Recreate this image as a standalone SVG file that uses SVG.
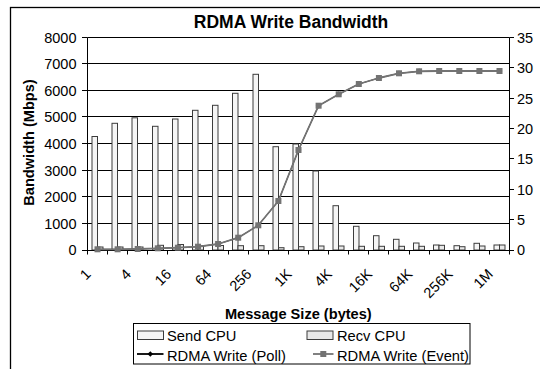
<svg xmlns="http://www.w3.org/2000/svg" width="540" height="369" viewBox="0 0 540 369">
  <style>
    text { font-family: "Liberation Sans", Arial, sans-serif; fill: #000; }
    .tick { font-size: 14.5px; }
    .ttl { font-size: 17.5px; font-weight: bold; }
    .axt { font-size: 14.6px; font-weight: bold; }
    .leg { font-size: 14.7px; }
    .grid { stroke: #000; stroke-width: 1; }
    .axis { stroke: #000; stroke-width: 1; fill: none; }
    .send { fill: #f5f5f5; stroke: #3c3c3c; stroke-width: 1; }
    .recv { fill: #e8e8e8; stroke: #3c3c3c; stroke-width: 1; }
    .ev { fill: none; stroke: #737373; stroke-width: 1.8; stroke-linejoin: round; }
    .poll { fill: none; stroke: #000; stroke-width: 1; }
  </style>
  <defs>
    <rect id="sq" x="-3" y="-3" width="6" height="6" fill="#737373"/>
    <path id="dm" d="M0,-2.8 L2.8,0 L0,2.8 L-2.8,0 Z" fill="#000"/>
  </defs>

  <rect width="540" height="369" fill="#fff"/>
  <!-- chart frame -->
  <rect x="10.5" y="7.5" width="600" height="420" fill="none" stroke="#000" stroke-width="1.3"/>

  <text class="ttl" x="291" y="27.5" text-anchor="middle">RDMA Write Bandwidth</text>

  <!-- horizontal gridlines (left scale, 1000 steps) -->
  <g id="gridlines">
    <line class="grid" x1="87.5" y1="37.5" x2="509.5" y2="37.5"/>
    <line class="grid" x1="87.5" y1="63.5" x2="509.5" y2="63.5"/>
    <line class="grid" x1="87.5" y1="90.5" x2="509.5" y2="90.5"/>
    <line class="grid" x1="87.5" y1="116.5" x2="509.5" y2="116.5"/>
    <line class="grid" x1="87.5" y1="143.5" x2="509.5" y2="143.5"/>
    <line class="grid" x1="87.5" y1="170.5" x2="509.5" y2="170.5"/>
    <line class="grid" x1="87.5" y1="196.5" x2="509.5" y2="196.5"/>
    <line class="grid" x1="87.5" y1="223.5" x2="509.5" y2="223.5"/>
  </g>

  <!-- Send CPU bars -->
  <g id="send-cpu">
    <rect class="send" x="92" y="136.5" width="5.5" height="113.5"/>
    <rect class="send" x="112" y="123.3" width="5.5" height="126.7"/>
    <rect class="send" x="132" y="117.8" width="5.5" height="132.2"/>
    <rect class="send" x="152.5" y="126.3" width="5.5" height="123.7"/>
    <rect class="send" x="172.5" y="119" width="5.5" height="131"/>
    <rect class="send" x="192.5" y="110.3" width="5.5" height="139.7"/>
    <rect class="send" x="212.5" y="105.3" width="5.5" height="144.7"/>
    <rect class="send" x="232.5" y="93.3" width="5.5" height="156.7"/>
    <rect class="send" x="253" y="74.3" width="5.5" height="175.7"/>
    <rect class="send" x="273" y="146.7" width="5.5" height="103.3"/>
    <rect class="send" x="293" y="144" width="5.5" height="106"/>
    <rect class="send" x="313" y="171" width="5.5" height="79"/>
    <rect class="send" x="333" y="205.7" width="5.5" height="44.3"/>
    <rect class="send" x="353.5" y="226.3" width="5.5" height="23.7"/>
    <rect class="send" x="373.5" y="235.7" width="5.5" height="14.3"/>
    <rect class="send" x="393.5" y="239.3" width="5.5" height="10.7"/>
    <rect class="send" x="413.5" y="243" width="5.5" height="7"/>
    <rect class="send" x="433.5" y="245" width="5.5" height="5"/>
    <rect class="send" x="454" y="245.7" width="5.5" height="4.3"/>
    <rect class="send" x="474" y="243.3" width="5.5" height="6.7"/>
    <rect class="send" x="494" y="245" width="5.5" height="5"/>
  </g>

  <!-- Recv CPU bars -->
  <g id="recv-cpu">
    <rect class="recv" x="97.5" y="247" width="5.5" height="3"/>
    <rect class="recv" x="117.5" y="247" width="5.5" height="3"/>
    <rect class="recv" x="137.5" y="247" width="5.5" height="3"/>
    <rect class="recv" x="158" y="245.3" width="5.5" height="4.7"/>
    <rect class="recv" x="178" y="244.5" width="5.5" height="5.5"/>
    <rect class="recv" x="198" y="246" width="5.5" height="4"/>
    <rect class="recv" x="218" y="245.5" width="5.5" height="4.5"/>
    <rect class="recv" x="238" y="245.7" width="5.5" height="4.3"/>
    <rect class="recv" x="258.5" y="245.7" width="5.5" height="4.3"/>
    <rect class="recv" x="278.5" y="247.7" width="5.5" height="2.3"/>
    <rect class="recv" x="298.5" y="246.7" width="5.5" height="3.3"/>
    <rect class="recv" x="318.5" y="246" width="5.5" height="4"/>
    <rect class="recv" x="338.5" y="246" width="5.5" height="4"/>
    <rect class="recv" x="359" y="246.3" width="5.5" height="3.7"/>
    <rect class="recv" x="379" y="246.3" width="5.5" height="3.7"/>
    <rect class="recv" x="399" y="246.3" width="5.5" height="3.7"/>
    <rect class="recv" x="419" y="246.3" width="5.5" height="3.7"/>
    <rect class="recv" x="439" y="245.3" width="5.5" height="4.7"/>
    <rect class="recv" x="459.5" y="246.7" width="5.5" height="3.3"/>
    <rect class="recv" x="479.5" y="246" width="5.5" height="4"/>
    <rect class="recv" x="499.5" y="245" width="5.5" height="5"/>
  </g>

  <!-- axes -->
  <g id="axes">
    <line class="axis" x1="87.5" y1="37.5" x2="87.5" y2="250"/>
    <line class="axis" x1="509.5" y1="37.5" x2="509.5" y2="250"/>
    <line class="axis" x1="87.5" y1="250.5" x2="509.5" y2="250.5"/>
    <!-- left ticks -->
    <path class="axis" d="M82,37.5H87.5M82,63.5H87.5M82,90.5H87.5M82,116.5H87.5M82,143.5H87.5M82,170.5H87.5M82,196.5H87.5M82,223.5H87.5M82,250.5H87.5"/>
    <!-- right ticks -->
    <path class="axis" d="M509.5,37.5H514M509.5,67.5H514M509.5,98.5H514M509.5,128.5H514M509.5,158.5H514M509.5,189.5H514M509.5,219.5H514M509.5,250.5H514"/>
    <!-- category ticks -->
    <path class="axis" d="M87.5,250V254.5M107.5,250V254.5M127.5,250V254.5M147.5,250V254.5M167.5,250V254.5M187.5,250V254.5M208.5,250V254.5M228.5,250V254.5M248.5,250V254.5M268.5,250V254.5M288.5,250V254.5M308.5,250V254.5M328.5,250V254.5M348.5,250V254.5M368.5,250V254.5M388.5,250V254.5M409.5,250V254.5M429.5,250V254.5M449.5,250V254.5M469.5,250V254.5M489.5,250V254.5M509.5,250V254.5"/>
  </g>

  <!-- bandwidth series -->
  <g id="series-poll">
    <polyline class="poll" points="97.5,249.3 117.6,249.3 137.7,249 157.8,248.3 177.9,247.7 198,246.7 218.1,244 238.2,237.7 258.3,225.3 278.4,201 298.5,150 318.6,105.7 338.7,94.3 358.8,84 378.9,78 399,73.3 419.1,71.3 439.2,71 459.3,71 479.4,71 499.5,71"/>
    <use href="#dm" x="97.5" y="249.3"/><use href="#dm" x="117.6" y="249.3"/><use href="#dm" x="137.7" y="249"/>
    <use href="#dm" x="157.8" y="248.3"/><use href="#dm" x="177.9" y="247.7"/><use href="#dm" x="198" y="246.7"/>
    <use href="#dm" x="218.1" y="244"/><use href="#dm" x="238.2" y="237.7"/><use href="#dm" x="258.3" y="225.3"/>
    <use href="#dm" x="278.4" y="201"/><use href="#dm" x="298.5" y="150"/><use href="#dm" x="318.6" y="105.7"/>
    <use href="#dm" x="338.7" y="94.3"/><use href="#dm" x="358.8" y="84"/><use href="#dm" x="378.9" y="78"/>
    <use href="#dm" x="399" y="73.3"/><use href="#dm" x="419.1" y="71.3"/><use href="#dm" x="439.2" y="71"/>
    <use href="#dm" x="459.3" y="71"/><use href="#dm" x="479.4" y="71"/><use href="#dm" x="499.5" y="71"/>
  </g>
  <g id="series-event">
    <polyline class="ev" points="97.5,249.3 117.6,249.3 137.7,249 157.8,248.3 177.9,247.7 198,246.7 218.1,244 238.2,237.7 258.3,225.3 278.4,201 298.5,150 318.6,105.7 338.7,94.3 358.8,84 378.9,78 399,73.3 419.1,71.3 439.2,71 459.3,71 479.4,71 499.5,71"/>
    <use href="#sq" x="97.5" y="249.3"/><use href="#sq" x="117.6" y="249.3"/><use href="#sq" x="137.7" y="249"/>
    <use href="#sq" x="157.8" y="248.3"/><use href="#sq" x="177.9" y="247.7"/><use href="#sq" x="198" y="246.7"/>
    <use href="#sq" x="218.1" y="244"/><use href="#sq" x="238.2" y="237.7"/><use href="#sq" x="258.3" y="225.3"/>
    <use href="#sq" x="278.4" y="201"/><use href="#sq" x="298.5" y="150"/><use href="#sq" x="318.6" y="105.7"/>
    <use href="#sq" x="338.7" y="94.3"/><use href="#sq" x="358.8" y="84"/><use href="#sq" x="378.9" y="78"/>
    <use href="#sq" x="399" y="73.3"/><use href="#sq" x="419.1" y="71.3"/><use href="#sq" x="439.2" y="71"/>
    <use href="#sq" x="459.3" y="71"/><use href="#sq" x="479.4" y="71"/><use href="#sq" x="499.5" y="71"/>
  </g>

  <!-- left axis labels -->
  <g id="y-left" class="tick" text-anchor="end">
    <text class="tick" x="76.5" y="42.7">8000</text>
    <text class="tick" x="76.5" y="69">7000</text>
    <text class="tick" x="76.5" y="95.7">6000</text>
    <text class="tick" x="76.5" y="122">5000</text>
    <text class="tick" x="76.5" y="148.7">4000</text>
    <text class="tick" x="76.5" y="175.5">3000</text>
    <text class="tick" x="76.5" y="202">2000</text>
    <text class="tick" x="76.5" y="228.5">1000</text>
    <text class="tick" x="76.5" y="255">0</text>
  </g>
  <!-- right axis labels -->
  <g id="y-right">
    <text class="tick" x="517" y="42.7">35</text>
    <text class="tick" x="517" y="73">30</text>
    <text class="tick" x="517" y="103.5">25</text>
    <text class="tick" x="517" y="133.7">20</text>
    <text class="tick" x="517" y="164">15</text>
    <text class="tick" x="517" y="194.5">10</text>
    <text class="tick" x="517" y="224.8">5</text>
    <text class="tick" x="517" y="255.3">0</text>
  </g>
  <!-- category labels -->
  <g id="x-labels" text-anchor="end">
    <text class="tick" transform="translate(91.7,275) rotate(-45)">1</text>
    <text class="tick" transform="translate(131.9,275) rotate(-45)">4</text>
    <text class="tick" transform="translate(172.1,275) rotate(-45)">16</text>
    <text class="tick" transform="translate(212.3,275) rotate(-45)">64</text>
    <text class="tick" transform="translate(252.5,275) rotate(-45)">256</text>
    <text class="tick" transform="translate(292.7,275) rotate(-45)">1K</text>
    <text class="tick" transform="translate(332.9,275) rotate(-45)">4K</text>
    <text class="tick" transform="translate(373.1,275) rotate(-45)">16K</text>
    <text class="tick" transform="translate(413.3,275) rotate(-45)">64K</text>
    <text class="tick" transform="translate(453.5,275) rotate(-45)">256K</text>
    <text class="tick" transform="translate(493.7,275) rotate(-45)">1M</text>
  </g>

  <text class="axt" transform="translate(34,142.5) rotate(-90)" text-anchor="middle">Bandwidth (Mbps)</text>
  <text class="axt" x="298.3" y="319.3" text-anchor="middle">Message Size (bytes)</text>

  <!-- legend -->
  <g id="legend">
    <rect x="133.5" y="323.5" width="336.5" height="40.5" fill="#fff" stroke="#000" stroke-width="1"/>
    <rect class="send" x="137.5" y="331" width="26" height="8.5"/>
    <text class="leg" x="167" y="340.5">Send CPU</text>
    <rect class="recv" x="307" y="331" width="26" height="8.5"/>
    <text class="leg" x="337" y="340.5">Recv CPU</text>
    <line x1="137" y1="354" x2="163.5" y2="354" stroke="#000" stroke-width="1.8"/>
    <use href="#dm" x="150.3" y="354"/>
    <text class="leg" x="167" y="360.5">RDMA Write (Poll)</text>
    <line x1="313" y1="354" x2="333.5" y2="354" stroke="#737373" stroke-width="1.8"/>
    <use href="#sq" x="323.3" y="354"/>
    <text class="leg" x="337" y="360.5">RDMA Write (Event)</text>
  </g>
</svg>
